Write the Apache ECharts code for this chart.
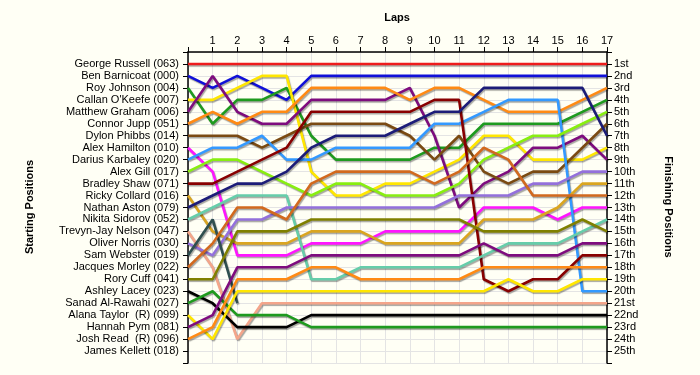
<!DOCTYPE html>
<html><head><meta charset="utf-8">
<script src="https://cdn.jsdelivr.net/npm/echarts/dist/echarts.min.js"></script>
<style>html,body{margin:0;padding:0;background:#FFFFF5}#c{width:700px;height:375px}</style>
</head><body><div id="c"></div>
<script>
const laps = [0,1,2,3,4,5,6,7,8,9,10,11,12,13,14,15,16,17];
const startingNames = [
  'George Russell (063)','Ben Barnicoat (000)','Roy Johnson (004)','Callan O\'Keefe (007)',
  'Matthew Graham (006)','Connor Jupp (051)','Dylon Phibbs (014)','Alex Hamilton (010)',
  'Darius Karbaley (020)','Alex Gill (017)','Bradley Shaw (071)','Ricky Collard (016)',
  'Nathan Aston (079)','Nikita Sidorov (052)','Trevyn-Jay Nelson (047)','Oliver Norris (030)',
  'Sam Webster (019)','Jacques Morley (022)','Rory Cuff (041)','Ashley Lacey (023)',
  'Sanad Al-Rawahi (027)','Alana Taylor  (R) (099)','Hannah Pym (081)','Josh Read  (R) (096)',
  'James Kellett (018)'];
const finishLabels = ['1st','2nd','3rd','4th','5th','6th','7th','8th','9th','10th','11th','12th',
  '13th','14th','15th','16th','17th','18th','19th','20th','21st','22nd','23rd','24th','25th'];

// positions per lap (lap 0 = grid)
const russell  = [1,1,1,1,1,1,1,1,1,1,1,1,1,1,1,1,1,1];
const barnicoat= [2,3,2,3,4,2,2,2,2,2,2,2,2,2,2,2,2,2];
const johnson  = [3,6,4,4,3,7,9,9,9,9,8,8,6,6,6,6,5,4];
const okeefe   = [4,4,3,2,2,10,12,12,11,11,10,9,7,7,9,9,9,8];
const graham   = [5,2,5,6,6,4,4,4,4,3,7,13,11,10,8,8,7,9];
const jupp     = [6,5,6,5,5,3,3,3,3,4,3,3,4,5,5,5,4,3];
const phibbs   = [7,7,7,8,7,6,6,6,6,7,9,7,10,11,10,10,8,6];
const hamilton = [8,10,17,17,17,16,16,16,15,15,15,15,13,13,13,14,13,13];
const karbaley = [9,8,8,7,9,9,8,8,8,8,6,6,5,4,4,4,20,20];
const gill     = [10,9,9,10,11,12,11,11,12,12,12,11,9,8,7,7,6,5];
const shaw     = [11,11,10,9,8,5,5,5,5,5,4,4,19,20,19,19,17,17];
const collard  = [12,15,16,16,16,15,15,15,16,16,16,16,14,14,14,13,11,11];
const aston    = [13,12,11,11,10,8,7,7,7,6,5,5,3,3,3,3,3,7];
const sidorov  = [14,13,12,12,12,19,19,18,18,18,18,18,17,16,16,16,15,14];
const nelson   = [15,18,24,21,21,21,21,21,21,21,21,21,21,21,21,21,21,21];
const norris   = [16,17,14,14,13,13,13,13,13,13,13,12,12,12,11,11,10,10];
const webster  = [17,14,21,null,null,null,null,null,null,null,null,null,null,null,null,null,null,null];
const morley   = [18,16,13,13,14,11,10,10,10,10,11,10,8,9,12,12,12,12];
const cuff     = [19,19,15,15,15,14,14,14,14,14,14,14,15,15,15,15,14,15];
const lacey    = [20,21,23,23,23,22,22,22,22,22,22,22,22,22,22,22,22,22];
const alrawahi = [21,20,22,22,22,23,23,23,23,23,23,23,23,23,23,23,23,23];
const taylor   = [22,24,20,20,20,20,20,20,20,20,20,20,20,19,20,20,19,19];
const pym      = [23,22,18,18,18,17,17,17,17,17,17,17,16,17,17,17,16,16];
const read     = [24,23,19,19,19,18,18,19,19,19,19,19,18,18,18,18,18,18];

const driverRows = [russell,barnicoat,johnson,okeefe,graham,jupp,phibbs,hamilton,karbaley,gill,
  shaw,collard,aston,sidorov,nelson,norris,webster,morley,cuff,lacey,alrawahi,taylor,pym,read];
const colors = ['#EE1C1C','#1010D8','#1E9A1E','#FFE600','#7E0C7E','#FF8A14','#7A4A12','#FF14FF',
  '#3399FF','#88EE10','#880000','#DAA520','#1C1C78','#66CDAA','#F4A58A','#9370DB',
  '#2F4F4F','#D2691E','#808000','#000000','#1E9A1E','#FFE600','#7E0C7E','#FF8A14'];

const font = 'Liberation Sans, Arial, sans-serif';
const chart = echarts.init(document.getElementById('c'), null, {renderer:'canvas'});

const series = driverRows.map((row, i) => ({
  type: 'line',
  name: startingNames[i],
  xAxisIndex: 0, yAxisIndex: 0,
  symbol: 'none',
  data: row.map((p, k) => [laps[k], p]).filter(d => d[1] !== null),
  lineStyle: {color: colors[i], width: 2.6, shadowColor: 'rgba(0,0,0,0.35)', shadowOffsetX: 1, shadowOffsetY: 1.5, shadowBlur: 1},
  itemStyle: {color: colors[i]},
  silent: true
}));

const yCommon = {
  type: 'value', min: 0, max: 26, interval: 1, inverse: true,
  axisLine: {show: true, lineStyle: {color: '#000', width: 1.5}},
  axisTick: {show: true, length: 5, lineStyle: {color: '#000', width: 1}},
  splitLine: {show: false}
};

chart.setOption({
  backgroundColor: '#FFFFF5',
  animation: false,
  grid: {left: 188, right: 93, top: 52, bottom: 12},
  graphic: [
    {type: 'text', x: 397, y: 18, style: {text: 'Laps', font: 'bold 11px ' + font, fill: '#000', textAlign: 'center', textVerticalAlign: 'middle'}},
    {type: 'text', x: 30, y: 207, rotation: Math.PI / 2, style: {text: 'Starting Positions', font: 'bold 11px ' + font, fill: '#000', textAlign: 'center', textVerticalAlign: 'middle'}},
    {type: 'text', x: 668, y: 207, rotation: -Math.PI / 2, style: {text: 'Finishing Positions', font: 'bold 11px ' + font, fill: '#000', textAlign: 'center', textVerticalAlign: 'middle'}}
  ],
  xAxis: [{
    type: 'value', position: 'top', min: 0, max: 17, interval: 1,
    axisLine: {show: true, lineStyle: {color: '#000', width: 1.5}},
    axisTick: {show: true, length: 5, lineStyle: {color: '#000'}},
    axisLabel: {margin: 6, fontSize: 11, fontFamily: font, color: '#000', formatter: v => v === 0 ? '' : String(v)},
    splitLine: {show: true, lineStyle: {color: '#E4E4E4', width: 1}}
  }],
  yAxis: [
    Object.assign({}, yCommon, {
      position: 'left',
      splitLine: {show: true, lineStyle: {color: '#E4E4E4', width: 1}},
      axisLabel: {margin: 9, fontSize: 11, fontFamily: font, color: '#000', formatter: v => startingNames[v - 1] || ''}
    }),
    Object.assign({}, yCommon, {
      position: 'right',
      axisLabel: {margin: 7, fontSize: 11, fontFamily: font, color: '#000', formatter: v => finishLabels[v - 1] || ''}
    })
  ],
  series: series
});
</script></body></html>
